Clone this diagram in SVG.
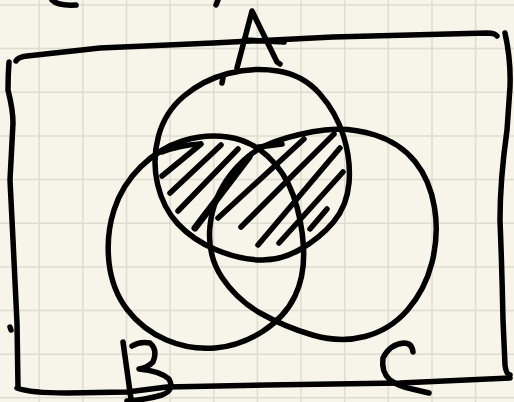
<svg xmlns="http://www.w3.org/2000/svg" width="514" height="402" viewBox="0 0 514 402">
<style>
.grid line{stroke:#dcdccf;stroke-width:1.5}
.ink{fill:none;stroke:#000;stroke-width:5.5;stroke-linecap:round;stroke-linejoin:round}
.hatch{fill:none;stroke:#000;stroke-width:5.5;stroke-linecap:round}
</style>
<rect width="514" height="402" fill="#f7f5ea"/>
<g class="grid">
<line x1="39.2" y1="0" x2="39.2" y2="402"/><line x1="82.8" y1="0" x2="82.8" y2="402"/><line x1="126.5" y1="0" x2="126.5" y2="402"/><line x1="170.1" y1="0" x2="170.1" y2="402"/><line x1="213.8" y1="0" x2="213.8" y2="402"/><line x1="257.4" y1="0" x2="257.4" y2="402"/><line x1="301" y1="0" x2="301" y2="402"/><line x1="344.7" y1="0" x2="344.7" y2="402"/><line x1="388.3" y1="0" x2="388.3" y2="402"/><line x1="432" y1="0" x2="432" y2="402"/><line x1="475.6" y1="0" x2="475.6" y2="402"/>
<line x1="0" y1="5" x2="514" y2="5"/><line x1="0" y1="48.6" x2="514" y2="48.6"/><line x1="0" y1="92.3" x2="514" y2="92.3"/><line x1="0" y1="136" x2="514" y2="136"/><line x1="0" y1="179.6" x2="514" y2="179.6"/><line x1="0" y1="223.2" x2="514" y2="223.2"/><line x1="0" y1="266.9" x2="514" y2="266.9"/><line x1="0" y1="310.5" x2="514" y2="310.5"/><line x1="0" y1="354.2" x2="514" y2="354.2"/><line x1="0" y1="397.8" x2="514" y2="397.8"/>
</g>
<g id="top-marks" class="ink">
<path d="M52,0 Q58,6 76,5"/>
<path d="M218,0 L216,5"/>
</g>
<g id="universe" class="ink">
<path d="M16,61 Q18,57 27,56 L100,48 L213,43 L333,37 L487,33 Q495,33 497,36"/>
<path d="M9,62 Q8,75 8,90 Q13,110 13,123 L10,180 L13,240 L17,323 L18,387"/>
<path d="M10,327 L11,330"/>
<path d="M17,388 Q30,393 67,393 L127,392 L167,387 L267,385 L400,383 L510,378"/>
<path d="M505,33 Q511,60 510,87 L507,130 Q500,180 500,220 Q502,270 503,320 L505,365 Q506,374 510,375"/>
</g>
<g id="set-A">
<path class="ink" d="M228,73.5 Q253,67 278,71 Q303,75 319.5,93.5 Q336,112 343.5,136 Q351,160 349,183 Q347,206 333.5,222 Q320,238 300,249.5 Q280,261 259,260 Q238,259 215.5,249.5 Q193,240 178,224 Q163,208 157.5,184 Q152,160 158.5,136 Q165,112 184,96 Q203,80 228,73.5 Z"/>
<path class="ink" d="M223,78 L222,83"/>
<path class="ink" d="M237,68 L252,11 L277,62 L280,64"/>
<path class="ink" d="M244,40 L284,42"/>
</g>
<g id="set-B">
<path class="ink" d="M182.5,141 Q205,134 227.5,137 Q250,140 267.5,156 Q285,172 293.5,196 Q302,220 303.5,247.5 Q305,275 295,296 Q285,317 262.5,331.5 Q240,346 215,348 Q190,350 166.5,340 Q143,330 127.5,310 Q112,290 109,262.5 Q106,235 114,210 Q122,185 141,166.5 Q160,148 182.5,141 Z"/>
<path class="ink" d="M123,342 L131,399"/>
<path class="ink" d="M132,346 Q140,341 150,343 Q158,350 153,362 Q147,368 139,369 Q160,371 169,379 Q175,390 162,395 Q145,400 127,401"/>
</g>
<g id="set-C">
<path class="ink" d="M275,141.5 Q300,133 325,130 Q350,127 375,135 Q400,143 415,161.5 Q430,180 434.5,207.5 Q439,235 432,262.5 Q425,290 407.5,310 Q390,330 365,336.5 Q340,343 312.5,335 Q285,327 261,313.5 Q237,300 222,277.5 Q207,255 210,226 Q213,197 231.5,173.5 Q250,150 275,141.5 Z"/>
<path class="ink" d="M259,147 L282,144"/>
<path class="ink" d="M413,352 Q412,343 404,343 Q390,344 383,358 Q381,372 390,380 Q400,387 412,389 L429,393"/>
</g>
<g id="hatching" class="hatch">
<path d="M162,152 Q180,145 200,144"/>
<path d="M162,176 L201,144"/>
<path d="M170,193 L221,145"/>
<path d="M178,211 L238,149"/>
<path d="M195,228 L249,157" style="stroke-width:7"/>
<path d="M218,218 L304,139"/>
<path d="M241,227 L334,134"/>
<path d="M258,245 L340,148"/>
<path d="M279,243 L343,172"/>
<path d="M310,229 L327,209"/>
</g>
</svg>
